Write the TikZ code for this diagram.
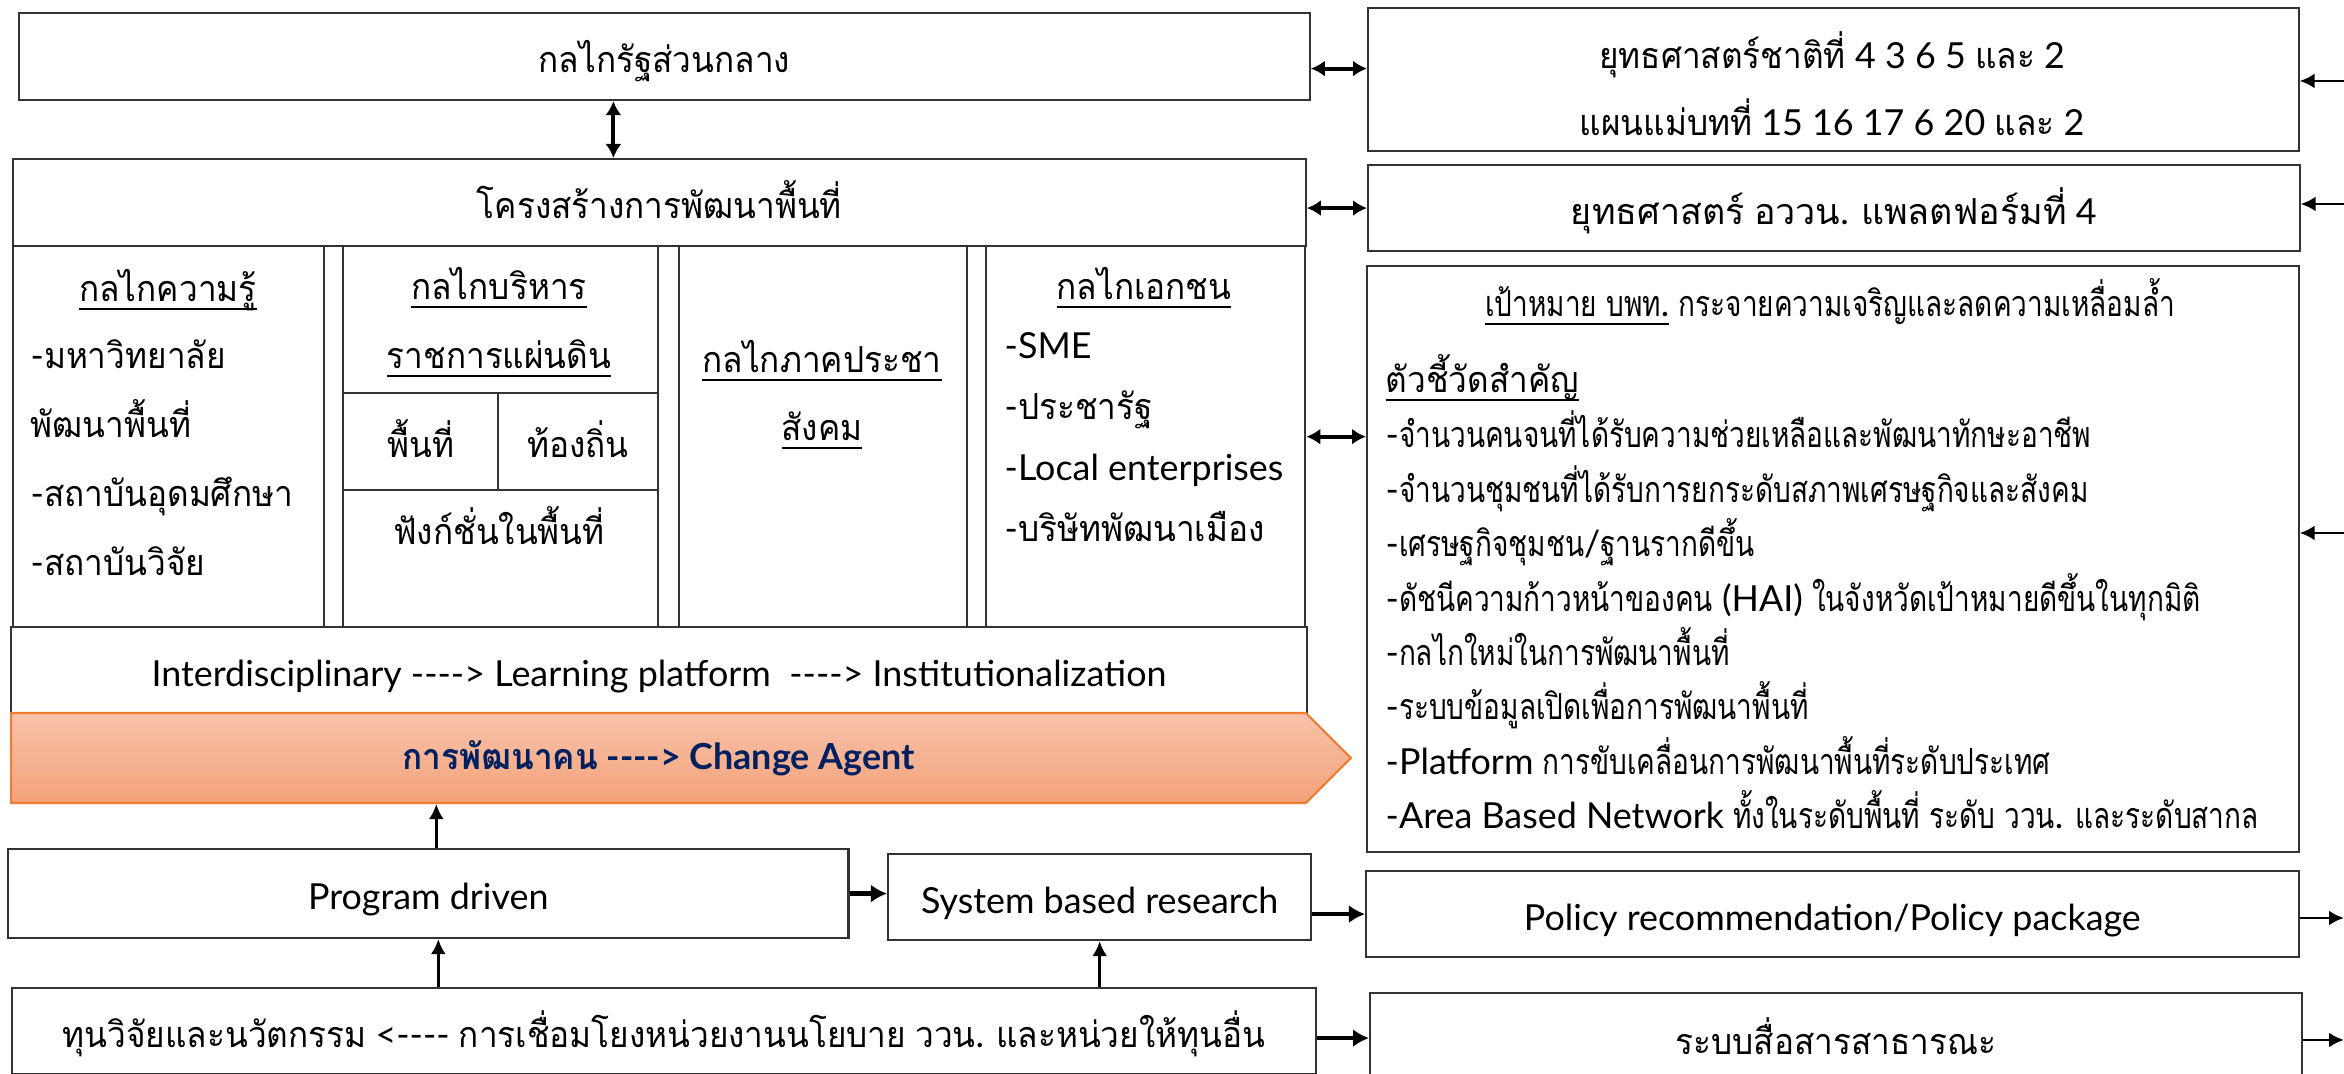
\documentclass[tikz,border=0pt]{standalone}
\usepackage{fontspec}
\setmainfont{Lato}
\newfontfamily\thwide[Script=Thai]{Loma}
\newfontfamily\thfont[Script=Thai,FakeStretch=0.93]{Loma}
\newfontfamily\thnarrow[Script=Thai,FakeStretch=0.78]{Loma}
\usetikzlibrary{positioning,arrows.meta,shapes.symbols}
\definecolor{agenttop}{RGB}{247,194,170}
\definecolor{agentbot}{RGB}{244,162,122}
\definecolor{agentline}{RGB}{237,125,49}
\definecolor{agenttext}{RGB}{0,32,96}
% Thai letters go to Loma, the rest stays in the main face
\newcommand{\thaisel}{\thfont}
\XeTeXinterchartokenstate=1
\newXeTeXintercharclass\thclass
\newcount\thcnt
\thcnt="0E00
\loop \XeTeXcharclass\thcnt=\thclass \ifnum\thcnt<"0E7F \advance\thcnt by 1 \repeat
\XeTeXinterchartoks 0 \thclass = {\thaisel}
\XeTeXinterchartoks 4095 \thclass = {\thaisel}
\XeTeXinterchartoks \thclass 0 = {\rmfamily}
\XeTeXinterchartoks \thclass 4095 = {\rmfamily}
\newcommand{\undl}[1]{\setbox0\hbox{#1}\rlap{\rule[-2.4pt]{\wd0}{0.8pt}}\box0\relax}
\newcommand{\fwd}{-\kern0pt-\kern0pt-\kern0pt-\kern0pt>}
\newcommand{\bwd}{<\kern0pt-\kern0pt-\kern0pt-\kern0pt-}

\begin{document}
\begin{tikzpicture}[x=0.01cm,y=-0.01cm,font=\fontsize{10.2}{12}\selectfont,
   box/.style={draw=black!80,line width=0.6pt,anchor=north west,inner sep=0pt,
      text height=0.42cm,text depth=0.1cm},
   head/.style={anchor=base,inner sep=0pt},
   item/.style={anchor=base west,inner sep=0pt},
   narrow/.style={font=\fontsize{10.2}{12}\selectfont\let\thaisel\thnarrow},
   dlink/.style={{Latex[length=0.14cm,width=0.16cm]}-{Latex[length=0.14cm,width=0.16cm]},line width=1.1pt},
   link/.style={-{Latex[length=0.15cm,width=0.15cm]},line width=0.8pt},
   flow/.style={-{Latex[length=0.16cm,width=0.18cm]},line width=1.2pt}]
\useasboundingbox (0,0) rectangle (2344,1074);

% left side
\node[box,minimum width=12.90cm,minimum height=0.87cm] (gov) at (18,12) {กลไกรัฐส่วนกลาง};
\node[box,minimum width=12.92cm,minimum height=0.87cm] (area) at (12,158) {โครงสร้างการพัฒนาพื้นที่};
\node[box,minimum width=3.11cm,minimum height=3.81cm] (know) at (12,245) {};
\node[box,minimum width=3.15cm,minimum height=3.81cm] (admin) at (342,245) {};
\node[box,minimum width=1.55cm,minimum height=0.97cm] (spot) at (342,392) {พื้นที่};
\node[box,minimum width=1.60cm,minimum height=0.97cm] (local) at (497,392) {ท้องถิ่น};
\node[box,minimum width=3.15cm,minimum height=1.37cm] (func) at (342,489) {};
\node[box,minimum width=2.88cm,minimum height=3.81cm] (civil) at (678,245) {};
\node[box,minimum width=3.19cm,minimum height=3.81cm] (firm) at (985,245) {};
\node[box,minimum width=12.95cm,minimum height=0.87cm] (inter) at (10,626)
   {Interdisciplinary \fwd{} Learning platform\ \ \fwd{} Institutionalization};
\node[signal,signal to=east,signal pointer angle=90,draw=agentline,line width=0.6pt,
   top color=agenttop,bottom color=agentbot,text=agenttext,font=\fontsize{10.2}{12}\selectfont\bfseries,
   minimum width=13.39cm,minimum height=0.90cm,inner sep=0pt,anchor=west] (agent) at (10,758)
   {การพัฒนาคน \fwd{} Change Agent};
\node[box,minimum width=8.40cm,minimum height=0.89cm] (prog) at (7,848) {Program driven};
\node[box,minimum width=4.23cm,minimum height=0.86cm] (sys) at (887,853) {System based research};
\node[box,minimum width=13.03cm,minimum height=0.86cm] (fund) at (11,987)
   {ทุนวิจัยและนวัตกรรม \bwd{} การเชื่อมโยงหน่วยงานนโยบาย ววน. และหน่วยให้ทุนอื่น};

% column texts
\node[head] (knowh) at (168,302) {\undl{กลไกความรู้}};
\foreach \txt [count=\i from 0] in {-มหาวิทยาลัย,พัฒนาพื้นที่,-สถาบันอุดมศึกษา,-สถาบันวิจัย}
   \node[item] (know\i) at (30,{369+69*\i}) {\txt};
\node[head] (adminh) at (499,300) {\undl{กลไกบริหาร}};
\node[head] (adminh2) at (499,369) {\undl{ราชการแผ่นดิน}};
\node[head] (funct) at (499,545) {ฟังก์ชั่นในพื้นที่};
\node[head] (civilh) at (822,373) {\undl{กลไกภาคประชา}};
\node[head] (civilh2) at (822,441) {\undl{สังคม}};
\node[head] (firmh) at (1144,300) {\undl{กลไกเอกชน}};
\foreach \txt [count=\i from 0] in {-SME,-ประชารัฐ,-Local enterprises,-บริษัทพัฒนาเมือง}
   \node[item] (firm\i) at (1004,{359+61*\i}) {\txt};

% right side
\node[box,minimum width=9.30cm,minimum height=1.43cm] (strat) at (1367,7) {};
\node[head] (strat1) at (1832,69) {ยุทธศาสตร์ชาติที่ 4 3 6 5 และ 2};
\node[head] (strat2) at (1832,136) {แผนแม่บทที่ 15 16 17 6 20 และ 2};
\node[box,minimum width=9.31cm,minimum height=0.86cm,font=\fontsize{10.2}{12}\selectfont\let\thaisel\thwide] (plat) at (1367,164)
   {ยุทธศาสตร์ อววน. แพลตฟอร์มที่ 4};
\node[box,minimum width=9.31cm,minimum height=5.86cm] (goal) at (1366,265) {};
\node[head,narrow] (goalh) at (1830,317) {\undl{เป้าหมาย บพท.} กระจายความเจริญและลดความเหลื่อมล้ำ};
\node[item] (goalk) at (1385,393) {\undl{ตัวชี้วัดสำคัญ}};
\foreach \txt [count=\i from 0] in {-จำนวนคนจนที่ได้รับความช่วยเหลือและพัฒนาทักษะอาชีพ,
   -จำนวนชุมชนที่ได้รับการยกระดับสภาพเศรษฐกิจและสังคม,
   -เศรษฐกิจชุมชน/ฐานรากดีขึ้น,
   -ดัชนีความก้าวหน้าของคน (HAI) ในจังหวัดเป้าหมายดีขึ้นในทุกมิติ,
   -กลไกใหม่ในการพัฒนาพื้นที่,
   -ระบบข้อมูลเปิดเพื่อการพัฒนาพื้นที่,
   -Platform การขับเคลื่อนการพัฒนาพื้นที่ระดับประเทศ,
   -Area Based Network ทั้งในระดับพื้นที่ ระดับ ววน. และระดับสากล}
   \node[item,narrow] (ind\i) at (1385,{448+54.4*\i}) {\txt};
\node[box,minimum width=9.32cm,minimum height=0.86cm] (policy) at (1365,870) {Policy recommendation/Policy package};
\node[box,minimum width=9.31cm,minimum height=0.90cm] (media) at (1369,992) {ระบบสื่อสารสาธารณะ};

% ends at the right edge
\coordinate (in1) at (2344,81);
\coordinate (in2) at (2344,204);
\coordinate (in3) at (2344,533);
\coordinate (out1) at (2344,918);
\coordinate (out2) at (2344,1040);

% connectors
\draw[dlink] ([xshift=-0.51cm]gov.south) -- ([xshift=-0.51cm]gov.south |- area.north);
\draw[dlink] ([yshift=-0.12cm]gov.east) -- ([yshift=-0.12cm]gov.east -| strat.west);
\draw[dlink] (plat.west -| area.east) -- (plat.west);
\draw[dlink] (firm.east) -- (firm.east -| goal.west);
\draw[link] ([xshift=0.08cm]prog.north) -- ([xshift=0.08cm]prog.north |- agent.south);
\draw[link] ([xshift=0.1cm]prog.south |- fund.north) -- ([xshift=0.1cm]prog.south);
\draw[link] (sys.south |- fund.north) -- (sys.south);
\draw[flow] (prog.east) -- (prog.east -| sys.west);
\draw[flow] (sys.east |- policy.west) -- (policy.west);
\draw[flow] (fund.east |- media.west) -- (media.west);
\draw[link] (in1) -- (in1 -| strat.east);
\draw[link] (in2) -- (in2 -| plat.east);
\draw[link] (in3) -- (in3 -| goal.east);
\draw[link] (out1 -| policy.east) -- (out1);
\draw[link] (out2 -| media.east) -- (out2);
\end{tikzpicture}
\end{document}
